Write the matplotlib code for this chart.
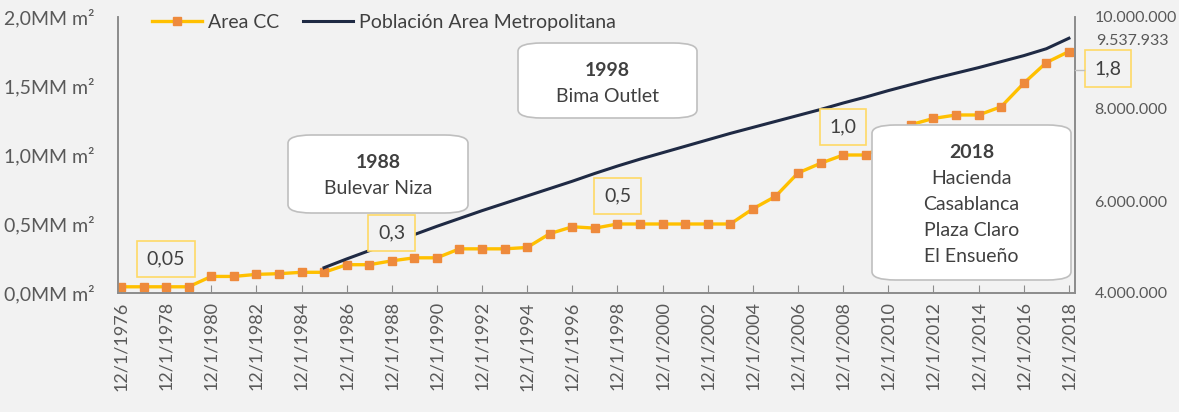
import numpy as np
import matplotlib
matplotlib.use("Agg")
import matplotlib.pyplot as plt
from matplotlib.patches import FancyBboxPatch
from matplotlib.lines import Line2D
from matplotlib.ticker import FuncFormatter, FixedLocator

plt.rcParams['font.family'] = ['Lato', 'DejaVu Sans']

# data
years = list(range(1976, 2019))
area_cc = [0.045, 0.045, 0.045, 0.045, 0.12, 0.12, 0.135, 0.14, 0.15, 0.15,
           0.205, 0.205, 0.233, 0.255, 0.255, 0.32, 0.32, 0.32, 0.33, 0.43,
           0.48, 0.47, 0.50, 0.50, 0.50, 0.50, 0.50, 0.50, 0.61, 0.70,
           0.87, 0.94, 1.00, 1.00, 1.08, 1.22, 1.265, 1.29, 1.29, 1.35,
           1.52, 1.67, 1.75]
pop_years = list(range(1985, 2019))
poblacion = [4550000, 4740000, 4920000, 5100000, 5270000, 5450000, 5620000,
             5790000, 5950000, 6110000, 6270000, 6430000, 6600000, 6760000,
             6910000, 7050000, 7190000, 7330000, 7470000, 7600000, 7730000,
             7860000, 7990000, 8130000, 8260000, 8400000, 8530000, 8660000,
             8780000, 8900000, 9030000, 9160000, 9310000, 9537933]
label_years = [1978, 1988, 1998, 2008, 2018]
label_texts = ['0,05', '0,3', '0,5', '1,0', '1,8']
notes = [['1988', 'Bulevar Niza'],
         ['1998', 'Bima Outlet'],
         ['2018', 'Hacienda', 'Casablanca', 'Plaza Claro', 'El Ensueño']]

W, H = 1179, 412
bg = '#F2F2F2'
grey_txt = '#595959'
axis_col = '#8C8C8C'

fig = plt.figure(figsize=(W / 100, H / 100), dpi=100, facecolor=bg)
ax = fig.add_axes([118 / W, 1 - 293 / H, (1075 - 118) / W, (293 - 17) / H])
ax.set_facecolor(bg)
ax2 = ax.twinx()

xi = np.arange(len(years))
px = np.array(pop_years) - years[0]

ax.plot(xi, area_cc, color='#FFC000', lw=2.4, marker='s', markersize=5.5,
        markerfacecolor='#EE8A3C', markeredgecolor='#EE8A3C', label='Area CC', zorder=3)
ax2.plot(px, poblacion, color='#1F2A44', lw=2.2, label='Población Area Metropolitana')

ax.set_xlim(-0.13, 42.27)
ax.set_ylim(0, 2.0)
ax2.set_ylim(4000000, 10000000)

ax.set_yticks([0, 0.5, 1.0, 1.5, 2.0])
ax.yaxis.set_major_formatter(FuncFormatter(lambda v, p: f'{v:.1f}'.replace('.', ',') + 'MM m²'))
ax2.set_yticks([4000000, 6000000, 8000000, 10000000])
ax2.yaxis.set_major_formatter(FuncFormatter(lambda v, p: f'{int(v):,}'.replace(',', '.')))

tick_idx = xi[::2]
ax.xaxis.set_major_locator(FixedLocator(tick_idx))
ax.set_xticklabels([f'12/1/{years[i]}' for i in tick_idx], rotation=90)

ax.tick_params(axis='x', direction='in', length=6, color=axis_col, labelsize=13,
               labelcolor=grey_txt, pad=6)
ax.tick_params(axis='y', length=0, labelsize=14, labelcolor=grey_txt, pad=17)
ax2.tick_params(axis='y', length=0, labelsize=11.5, labelcolor=grey_txt, pad=14)

for a in (ax, ax2):
    a.spines['top'].set_visible(False)
    for s in ('left', 'right', 'bottom'):
        a.spines[s].set_color(axis_col)
        a.spines[s].set_linewidth(1.2)

# data labels (on ax2 so their boxes sit above the population line)
for yr, txt in zip(label_years, label_texts):
    i = years.index(yr)
    off = (0, 28) if yr != 2018 else (39, -17)
    ax2.annotate(txt, xy=(i, area_cc[i]), xycoords=ax.transData, xytext=off,
                 textcoords='offset pixels', ha='center', va='center', fontsize=14,
                 color='#404040', zorder=5, annotation_clip=False,
                 bbox=dict(boxstyle='square,pad=0.5', fc=bg, ec='#FFD966', lw=1.2))

# short leader from the axis to the 1,8 label
fig.lines.append(Line2D([1075 / W, 1084 / W], [1 - 70 / H, 1 - 70 / H],
                        transform=fig.transFigure, color='#BFBFBF', lw=1))

ax2.annotate(f'{poblacion[-1]:,}'.replace(',', '.'), xy=(px[-1], poblacion[-1]),
             xytext=(63, -3), textcoords='offset pixels', ha='center', va='center',
             fontsize=11.5, color=grey_txt, annotation_clip=False)

leg = ax2.legend(handles=[ax.lines[0], ax2.lines[0]], loc='upper left', ncol=2,
                 bbox_to_anchor=(20 / W, 1.075), frameon=False, fontsize=14,
                 handlelength=2.6, columnspacing=1.2, handletextpad=0.3)
for t in leg.get_texts():
    t.set_color('#404040')

# note boxes (pixel layout)
boxes = [(288, 135, 468, 213), (518, 43, 697, 118), (872, 125, 1071, 280)]
fig.canvas.draw()
r = fig.canvas.get_renderer()
for (x0, y0, x1, y1), lines in zip(boxes, notes):
    p = FancyBboxPatch((x0 / W, 1 - y1 / H), (x1 - x0) / W, (y1 - y0) / H,
                       boxstyle='round,pad=0,rounding_size=0.02',
                       transform=fig.transFigure, fc='white', ec='#BFBFBF',
                       lw=1.2, zorder=4)
    fig.patches.append(p)
    cx = (x0 + x1) / 2 / W
    for k, line in enumerate(lines):
        yy = 1 - (y0 + 28 + 26 * k) / H
        t = fig.text(cx, yy, line, ha='center', va='center', fontsize=14,
                     color='#404040', fontweight='bold' if k == 0 else 'normal', zorder=6)
        if k == 0:
            bb = t.get_window_extent(renderer=r)
            uy = (bb.y0 - 1) / H
            fig.lines.append(Line2D([bb.x0 / W, bb.x1 / W], [uy, uy],
                                    transform=fig.transFigure, color='#404040', lw=1.2))

fig.savefig('out.png', dpi=100, facecolor=bg)
